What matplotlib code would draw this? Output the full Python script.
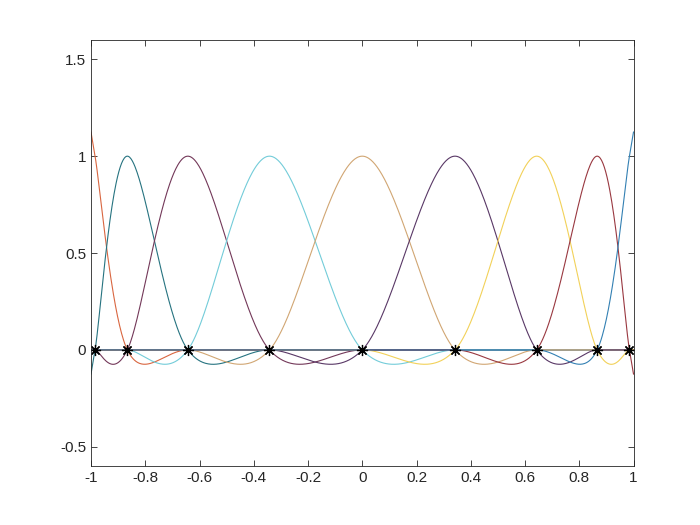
import numpy as np
import matplotlib.pyplot as plt

plt.rcParams['font.family'] = ['Liberation Sans', 'DejaVu Sans']

# Interpolation nodes (Chebyshev points)
nodes = [-0.985, -0.866, -0.643, -0.342, 0.0, 0.342, 0.643, 0.866, 0.985]

# one colour per cardinal function, in node order
line_colors = [
    (0.85, 0.40, 0.25),
    (0.15, 0.45, 0.50),
    (0.45, 0.22, 0.35),
    (0.45, 0.80, 0.85),
    (0.82, 0.65, 0.45),
    (0.35, 0.22, 0.40),
    (0.95, 0.82, 0.35),
    (0.60, 0.22, 0.25),
    (0.20, 0.50, 0.70),
]

xticks = [-1, -0.8, -0.6, -0.4, -0.2, 0, 0.2, 0.4, 0.6, 0.8, 1]
xticklabels = ['-1', '-0.8', '-0.6', '-0.4', '-0.2', '0', '0.2', '0.4', '0.6', '0.8', '1']
yticks = [-0.5, 0, 0.5, 1, 1.5]
yticklabels = ['-0.5', '0', '0.5', '1', '1.5']


def catmull_rom(tk, yk, t):
    # cubic Hermite with centred-difference slopes; tk, yk already padded
    s = np.zeros(len(tk))
    s[1:-1] = (yk[2:] - yk[:-2]) / (tk[2:] - tk[:-2])
    idx = np.clip(np.searchsorted(tk, t) - 1, 1, len(tk) - 3)
    h = tk[idx + 1] - tk[idx]
    u = (t - tk[idx]) / h
    h00 = 2 * u ** 3 - 3 * u ** 2 + 1
    h10 = u ** 3 - 2 * u ** 2 + u
    h01 = -2 * u ** 3 + 3 * u ** 2
    h11 = u ** 3 - u ** 2
    return (h00 * yk[idx] + h10 * h * s[idx] + h01 * yk[idx + 1]
            + h11 * h * s[idx + 1])


x = np.linspace(-1, 1, 801)
xn = np.array(nodes)
th = np.arccos(xn)[::-1]          # ascending angles
# mirror two nodes past each end (even in angle)
tk = np.concatenate([-th[1::-1], th, 2 * np.pi - th[:-3:-1]])

fig = plt.figure(figsize=(7, 5.25), dpi=100)
ax = fig.add_axes([0.13, 0.112, 0.775, 0.812])

for i in range(len(xn)):
    yk = np.zeros(len(xn))
    yk[i] = 1
    ya = yk[::-1]
    ypad = np.concatenate([ya[1::-1], ya, ya[:-3:-1]])
    ax.plot(x, catmull_rom(tk, ypad, np.arccos(x)), color=line_colors[i], lw=0.8)

ax.plot(xn, np.zeros_like(xn), marker=(8, 2, 0), color='black', ms=8, mew=0.9,
        linestyle='none')

ax.set_xlim(-1, 1)
ax.set_ylim(-0.6, 1.6)
ax.set_xticks(xticks)
ax.set_xticklabels(xticklabels)
ax.set_yticks(yticks)
ax.set_yticklabels(yticklabels)
ax.tick_params(direction='in', length=4, width=0.6, labelsize=11,
               top=True, right=True, colors='#262626')
for s in ax.spines.values():
    s.set_linewidth(0.6)
    s.set_color('#262626')

plt.savefig('out.png', dpi=100)
